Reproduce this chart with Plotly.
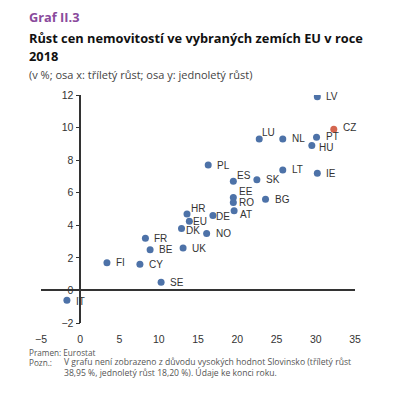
import plotly.graph_objects as go

countries = ["LV", "CZ", "LU", "NL", "PT", "HU", "PL", "LT", "IE", "ES", "SK", "EE", "RO", "BG",
             "AT", "DE", "NO", "HR", "EU", "DK", "UK", "FR", "BE", "FI", "CY", "SE", "IT"]
growth_3y = [30.2, 32.3, 22.8, 25.8, 30.1, 29.5, 16.3, 25.8, 30.2, 19.5, 22.5, 19.5, 19.5, 23.6,
             19.6, 16.9, 16.1, 13.6, 13.9, 12.9, 13.1, 8.3, 8.9, 3.4, 7.6, 10.3, -1.7]
growth_1y = [11.9, 9.9, 9.3, 9.3, 9.4, 8.9, 7.7, 7.4, 7.2, 6.7, 6.8, 5.7, 5.4, 5.6,
             4.9, 4.6, 3.5, 4.7, 4.25, 3.8, 2.6, 3.2, 2.5, 1.7, 1.6, 0.5, -0.6]
x_ticks = [-5, 0, 5, 10, 15, 20, 25, 30, 35]
y_ticks = [-2, 0, 2, 4, 6, 8, 10, 12]

BLUE = "#4d72a8"
RED = "#d4664f"
highlight = {"CZ"}
colors = [RED if c in highlight else BLUE for c in countries]

# label offsets (pixels) relative to the marker
default_off = (8, 0)
label_off = {"LU": (2, 6), "ES": (3, 6), "HR": (3, 5), "EE": (5, 6), "RO": (5, 0),
             "AT": (5, -4), "DE": (2, -1), "EU": (3, 0), "DK": (3, -2), "HU": (6, -2),
             "IT": (8, -1), "PT": (8, 1), "CZ": (8, 2)}

W, H = 399, 397
ML, MR, MT, MB = 41, 44, 95, 74
PW, PH = W - ML - MR, H - MT - MB

def px(x):
    return (x - ML) / PW

def py(y):
    return (H - MB - y) / PH

fig = go.Figure()
fig.add_trace(go.Scatter(x=growth_3y, y=growth_1y, mode="markers",
                         marker=dict(size=7, color=colors), hoverinfo="text",
                         text=countries, showlegend=False))

ann = []
for c, x, y in zip(countries, growth_3y, growth_1y):
    dx, dy = label_off.get(c, default_off)
    ann.append(dict(x=x, y=y, xref="x", yref="y", text=c, showarrow=False,
                    xanchor="left", yanchor="middle", xshift=dx, yshift=dy, borderpad=0,
                    font=dict(family="Liberation Sans, Arial", size=10, color="#333333")))

ann += [
    dict(x=px(27), y=py(17), text="<b>Graf II.3</b>",
         font=dict(family="Open Sans", size=12.8, color="#8a4a9c")),
    dict(x=px(27), y=py(38), text="<b>Růst cen nemovitostí ve vybraných zemích EU v roce</b>",
         font=dict(family="Open Sans", size=12.8, color="#111111")),
    dict(x=px(27), y=py(56), text="<b>2018</b>",
         font=dict(family="Open Sans", size=12.8, color="#111111")),
    dict(x=px(27), y=py(74), text="(v %; osa x: tříletý růst; osa y: jednoletý růst)",
         font=dict(family="Open Sans", size=11, color="#444444")),
    dict(x=px(27), y=py(352), text="Pramen: Eurostat",
         font=dict(family="Open Sans", size=8.2, color="#555555")),
    dict(x=px(27), y=py(362), text="Pozn.:",
         font=dict(family="Open Sans", size=8.2, color="#555555")),
    dict(x=px(62), y=py(367),
         text="V grafu není zobrazeno z důvodu vysokých hodnot Slovinsko (tříletý růst"
              "<br>38,95 %, jednoletý růst 18,20 %). Údaje ke konci roku.",
         align="left", font=dict(family="Open Sans", size=8.6, color="#555555")),
]
for a in ann[len(countries):]:
    a.update(xref="paper", yref="paper", showarrow=False, xanchor="left", yanchor="middle")

fig.update_layout(
    width=W, height=H, margin=dict(l=ML, r=MR, t=MT, b=MB),
    paper_bgcolor="white", plot_bgcolor="white",
    annotations=ann,
    xaxis=dict(range=[-5, 35], tickvals=x_ticks, showgrid=False, zeroline=False,
               showline=False, ticks="", ticklabelstandoff=8,
               tickfont=dict(family="Liberation Sans, Arial", size=10.5, color="#333333")),
    yaxis=dict(range=[-2, 12], tickvals=y_ticks, showgrid=False, zeroline=True,
               zerolinecolor="#333333", zerolinewidth=1.5,
               showline=True, linecolor="#333333", linewidth=1.5,
               ticks="outside", ticklen=4, tickcolor="#333333",
               anchor="free", position=0.125,
               tickfont=dict(family="Liberation Sans, Arial", size=10.5, color="#333333")),
)

fig.write_html("out.html", config={"displayModeBar": False},
               post_script="document.body.style.margin='0px';document.body.style.overflow='hidden';")
